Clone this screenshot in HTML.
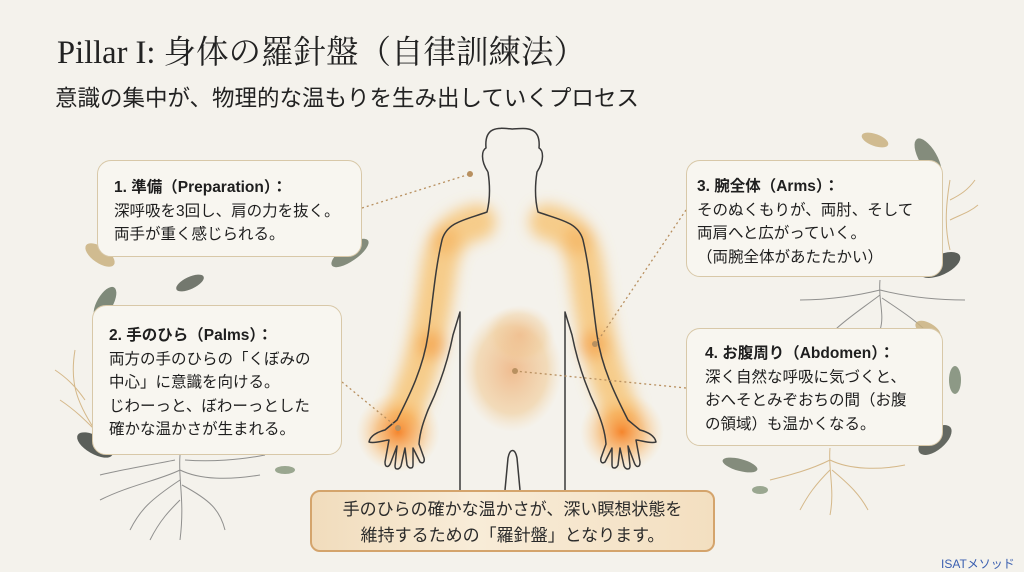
<!DOCTYPE html>
<html><head><meta charset="utf-8"><style>
*{margin:0;padding:0;box-sizing:border-box}
body{width:1024px;height:572px;overflow:hidden;background:#f4f2ec;position:relative;font-family:"Liberation Sans","Noto Sans CJK JP",sans-serif;color:#222}
.t{position:absolute;left:57px;top:27px;font-family:"Liberation Serif","Noto Serif CJK SC",serif;font-size:32.5px;color:#222;white-space:nowrap}
.s{position:absolute;left:55px;top:81px;font-size:22.5px;color:#222;white-space:nowrap}
.box{position:absolute;background:#f8f6f0;border:1.5px solid #d8c8a8;border-radius:14px;font-size:15.5px;line-height:23.5px;padding-left:16px;white-space:nowrap;color:#1e1e1e}
.box b{font-weight:bold}
.bot{position:absolute;left:310px;top:490px;width:405px;height:62px;border:2px solid #d4a46c;border-radius:10px;background:linear-gradient(90deg,#f1dcbc,#f8ecd8 40%,#f3dfc0);text-align:center;font-size:17px;line-height:26px;padding-top:5px;color:#2a2a2a}
.f{position:absolute;left:941px;top:555px;font-size:12px;color:#3a5fb0}
</style></head><body>
<svg width="1024" height="572" style="position:absolute;left:0;top:0">
<defs>
<radialGradient id="g1"><stop offset="0" stop-color="#f57a1a" stop-opacity=".9"/><stop offset=".5" stop-color="#f8a040" stop-opacity=".55"/><stop offset="1" stop-color="#fbd090" stop-opacity="0"/></radialGradient>
<radialGradient id="g3"><stop offset="0" stop-color="#eea060" stop-opacity=".65"/><stop offset=".7" stop-color="#f0c890" stop-opacity=".55"/><stop offset="1" stop-color="#f3d8b0" stop-opacity="0"/></radialGradient>
<filter id="bl" x="-50%" y="-50%" width="200%" height="200%"><feGaussianBlur stdDeviation="7"/></filter>
</defs>
<g fill="none" stroke-linecap="round" filter="url(#bl)">
<path d="M478 222 C450 228 442 245 438 275 C433 310 428 340 418 375 L405 410" stroke="#f7bc60" stroke-width="36" opacity=".7"/>
<path d="M547 222 C575 228 583 245 587 275 C592 310 597 340 607 375 L620 410" stroke="#f7bc60" stroke-width="36" opacity=".7"/>
<circle cx="432" cy="345" r="14" fill="#f59a40" stroke="none" opacity=".6"/>
<circle cx="593" cy="345" r="14" fill="#f59a40" stroke="none" opacity=".6"/>
<circle cx="445" cy="240" r="14" fill="#f5a850" stroke="none" opacity=".5"/>
<circle cx="578" cy="240" r="14" fill="#f5a850" stroke="none" opacity=".5"/>
</g>
<ellipse cx="398" cy="432" rx="42" ry="40" fill="url(#g1)"/>
<ellipse cx="622" cy="432" rx="42" ry="40" fill="url(#g1)"/>
<ellipse cx="512" cy="370" rx="50" ry="62" fill="url(#g3)"/>
<ellipse cx="520" cy="335" rx="35" ry="30" fill="url(#g3)" opacity=".6"/>
<g fill="none" stroke="#3a3a3a" stroke-width="1.5" stroke-linejoin="round">
<path d="M488 172 C480 160 482 150 486 148 C484 125 500 128 512 129 C526 128 541 126 539 148 C543 150 545 160 537 172 C535 185 535 200 538 212 C560 220 578 222 583 240 C590 270 592 300 597 335 C602 370 618 400 628 420 L640 430 C648 432 655 436 656 442 C650 444 640 440 636 440 L640 462 C640 468 636 468 634 462 L628 446 L630 466 C630 470 626 470 624 466 L620 448 L618 465 C616 469 612 469 612 465 L612 448 L605 462 C602 464 600 462 601 458 L606 444 C605 430 600 418 597 410 C585 385 577 360 572 335 L565 312 L565 490"/>
<path d="M488 172 C490 185 490 200 487 212 C465 220 447 222 442 240 C435 270 433 300 428 335 C423 370 407 400 397 420 L385 430 C377 432 370 436 369 442 C375 444 385 440 389 440 L385 462 C385 468 389 468 391 462 L397 446 L395 466 C395 470 399 470 401 466 L405 448 L407 465 C409 469 413 469 413 465 L413 448 L420 462 C423 464 425 462 424 458 L419 444 C420 430 425 418 428 410 C440 385 448 360 453 335 L460 312 L460 490"/>
<path d="M505 490 L508 458 C510 448 515 448 517 458 L520 490"/>
</g>
<g stroke="#b89060" stroke-width="1.3" stroke-dasharray="2 3" fill="none">
<path d="M362 208 L470 174"/><path d="M342 382 L398 428"/><path d="M686 210 L595 345"/><path d="M686 388 L515 371"/>
</g>
<g fill="#b89060"><circle cx="470" cy="174" r="3"/><circle cx="398" cy="428" r="3"/><circle cx="595" cy="344" r="3"/><circle cx="515" cy="371" r="3"/></g>
<g stroke="#777" stroke-width="1" fill="none" opacity=".8">
<path d="M180 455 C178 480 185 500 180 540 M180 470 C160 480 130 485 100 500 M180 470 C200 480 230 480 260 475 M180 480 C150 500 140 510 130 530 M182 485 C210 500 220 510 225 530 M175 460 C150 465 120 470 100 475 M185 460 C210 462 240 460 265 455 M180 500 C170 510 160 520 150 540"/>
<path d="M880 280 C878 300 885 315 880 330 M880 290 C860 295 830 300 800 300 M880 290 C900 295 930 300 965 300 M880 295 C860 310 845 320 835 330 M882 298 C900 310 915 320 925 330"/>
</g>
<g stroke="#c8a060" stroke-width="1" fill="none" opacity=".7">
<path d="M830 448 C828 470 835 490 830 515 M830 460 C810 470 790 475 770 480 M830 460 C850 470 880 470 905 465 M830 470 C815 485 808 495 800 510 M832 470 C850 485 860 495 868 510"/>
<path d="M75 350 C70 380 75 400 95 430 M60 400 C75 410 85 420 95 430 M55 370 C70 380 78 390 85 400"/>
<path d="M950 180 C945 210 945 230 950 250 M950 200 C960 195 968 190 975 180 M950 220 C960 215 970 212 978 205"/>
</g>
<g opacity=".85">
<ellipse cx="350" cy="253" rx="22" ry="8" fill="#6f7a68" transform="rotate(-35 350 253)"/>
<ellipse cx="100" cy="255" rx="17" ry="8" fill="#c9b280" transform="rotate(35 100 255)"/>
<ellipse cx="190" cy="283" rx="15" ry="6" fill="#5c6258" transform="rotate(-25 190 283)"/>
<ellipse cx="105" cy="303" rx="8" ry="18" fill="#6a7866" transform="rotate(30 105 303)"/>
<ellipse cx="95" cy="445" rx="20" ry="9" fill="#3f4540" transform="rotate(30 95 445)"/>
<ellipse cx="285" cy="470" rx="10" ry="4" fill="#8a9a80"/>
<ellipse cx="928" cy="158" rx="9" ry="22" fill="#6f7a68" transform="rotate(-30 928 158)"/>
<ellipse cx="875" cy="140" rx="14" ry="6" fill="#c9b280" transform="rotate(20 875 140)"/>
<ellipse cx="940" cy="265" rx="22" ry="10" fill="#3f4540" transform="rotate(-25 940 265)"/>
<ellipse cx="928" cy="330" rx="14" ry="7" fill="#c9b280" transform="rotate(30 928 330)"/>
<ellipse cx="955" cy="380" rx="6" ry="14" fill="#7a8a74"/>
<ellipse cx="935" cy="440" rx="20" ry="10" fill="#4a5048" transform="rotate(-40 935 440)"/>
<ellipse cx="740" cy="465" rx="18" ry="6" fill="#6f7a68" transform="rotate(15 740 465)"/>
<ellipse cx="760" cy="490" rx="8" ry="4" fill="#8a9a80"/>
</g>
</svg>
<div class="t">Pillar I: 身体の羅針盤（自律訓練法）</div>
<div class="s">意識の集中が、物理的な温もりを生み出していくプロセス</div>
<div class="box" style="left:97px;top:160px;width:265px;height:97px;padding-top:15px"><b>1. 準備（Preparation）：</b><br>深呼吸を3回し、肩の力を抜く。<br>両手が重く感じられる。</div>
<div class="box" style="left:92px;top:305px;width:250px;height:150px;padding-top:18px"><b>2. 手のひら（Palms）：</b><br>両方の手のひらの「くぼみの<br>中心」に意識を向ける。<br>じわーっと、ぼわーっとした<br>確かな温かさが生まれる。</div>
<div class="box" style="left:686px;top:160px;width:257px;height:117px;padding-top:14px;padding-left:10px"><b>3. 腕全体（Arms）：</b><br>そのぬくもりが、両肘、そして<br>両肩へと広がっていく。<br>（両腕全体があたたかい）</div>
<div class="box" style="left:686px;top:328px;width:257px;height:118px;padding-top:13px;padding-left:18px"><b>4. お腹周り（Abdomen）：</b><br>深く自然な呼吸に気づくと、<br>おへそとみぞおちの間（お腹<br>の領域）も温かくなる。</div>
<div class="bot">手のひらの確かな温かさが、深い瞑想状態を<br>維持するための「羅針盤」となります。</div>
<div class="f">ISATメソッド</div>
</body></html>
